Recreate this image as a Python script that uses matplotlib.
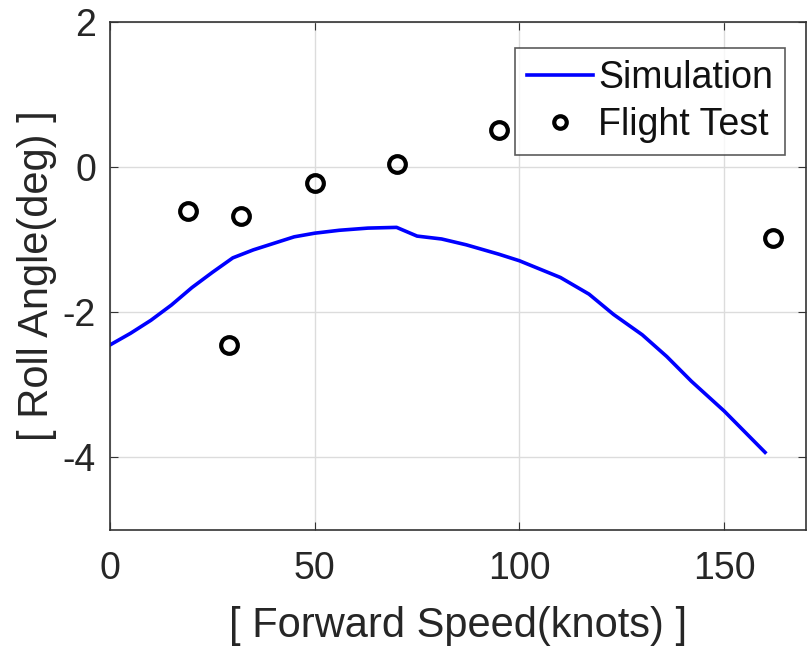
import matplotlib.pyplot as plt
import numpy as np

plt.rcParams['font.family'] = ['Liberation Sans', 'DejaVu Sans']
plt.rcParams['axes.unicode_minus'] = False

# simulation curve
sim_speed = [0, 5, 10, 15, 20, 25, 30, 35, 40, 45, 50, 56, 63, 70, 75, 81, 87, 95, 100,
             110, 117, 123, 130, 136, 142, 150, 160]
sim_roll = [-2.45, -2.29, -2.11, -1.90, -1.66, -1.45, -1.25, -1.14, -1.05, -0.96, -0.91,
            -0.87, -0.84, -0.83, -0.95, -0.99, -1.07, -1.2, -1.29, -1.52, -1.75, -2.03,
            -2.31, -2.61, -2.95, -3.36, -3.93]

# flight test points
ft_speed = [19, 29, 32, 50, 70, 95, 162]
ft_roll = [-0.61, -2.45, -0.68, -0.22, 0.04, 0.51, -0.97]

fig = plt.figure(figsize=(8.09, 6.51), dpi=100)
ax = fig.add_axes([110/809, 1 - 530/651, (806-110)/809, (530-22)/651])

ax.plot(sim_speed, sim_roll, color='#0000ff', lw=2.6, label='Simulation')
ax.plot(ft_speed, ft_roll, 'o', mfc='none', mec='black', mew=3, ms=12, label='Flight Test')

ax.set_xlim(0, 170)
ax.set_ylim(-5, 2)
ax.set_xticks([0, 50, 100, 150])
ax.set_yticks([-4, -2, 0, 2])
ax.grid(True, color='#dcdcdc', lw=1)
ax.tick_params(direction='in', top=True, right=True, labelsize=27, length=6,
               color='#333333', labelcolor='#262626', pad=10)
ax.tick_params(axis='x', pad=15)
for s in ax.spines.values():
    s.set_color('#333333')
    s.set_linewidth(1.2)

ax.set_xlabel('[ Forward Speed(knots) ]', fontsize=30, color='#262626', labelpad=14)
ax.set_ylabel('[ Roll Angle(deg) ]', fontsize=30, color='#262626', labelpad=4)

leg = ax.legend(loc='upper right', bbox_to_anchor=(785/809, 1 - 48/651),
                bbox_transform=fig.transFigure, borderaxespad=0,
                fontsize=27, frameon=True, fancybox=False, markerscale=0.75,
                edgecolor='#333333', borderpad=0.32, handlelength=1.75, handletextpad=0.15,
                labelspacing=0.3)
leg.get_frame().set_linewidth(1.2)
for t in leg.get_texts():
    t.set_color('#111111')

fig.savefig('out.png', dpi=100)
